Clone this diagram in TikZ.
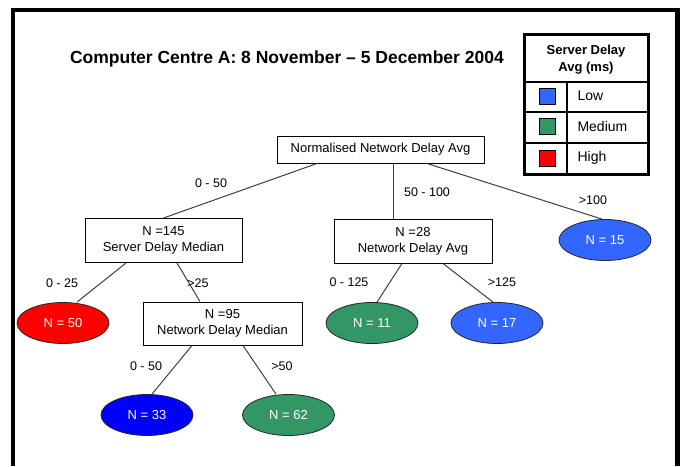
\documentclass[tikz,border=0pt]{standalone}
\usepackage{fontspec}
\setmainfont{Liberation Sans}
\usepackage{xcolor}
\usetikzlibrary{positioning,shapes.geometric}
\definecolor{lowblue}{RGB}{51,102,255}
\definecolor{midgreen}{RGB}{51,150,102}
\definecolor{highred}{RGB}{255,0,0}
\definecolor{deepblue}{RGB}{0,0,255}
\definecolor{edgegray}{RGB}{64,64,64}

\begin{document}
\begin{tikzpicture}[x=1pt,y=-1pt,
  split/.style={draw, line width=1pt, align=center, inner sep=0pt,
    font=\fontsize{13}{16}\selectfont},
  leaf/.style={ellipse, draw=black!85, line width=0.8pt, inner sep=0pt,
    minimum width=92pt, minimum height=41pt, text=white,
    font=\fontsize{13}{16}\selectfont},
  branch/.style={draw=edgegray, line width=1pt},
  cut/.style={font=\fontsize{12.5}{15}\selectfont},
  swatch/.style={draw, line width=0.8pt, minimum size=16pt, inner sep=0pt},
  keytext/.style={anchor=west, font=\fontsize{14}{16}\selectfont}]
\useasboundingbox (0,0) rectangle (680,466);
\fill[white] (0,0) rectangle (680,466);
\draw[line width=4.5pt] (13,466) -- (13,10) -- (677.5,10) -- (677.5,466);

% title
\node[font=\bfseries\fontsize{17.5}{20}\selectfont] (title) at (287,59)
  {Computer Centre A: 8 November -- 5 December 2004};

% legend
\draw[line width=3pt] (524,34) rectangle (648,174);
\draw[line width=1.5pt] (524,82) -- (648,82);
\draw[line width=1.2pt] (524,112) -- (648,112);
\draw[line width=1.2pt] (524,143) -- (648,143);
\draw[line width=1.2pt] (567,82) -- (567,174);
\node[align=center, font=\bfseries\fontsize{13}{17}\selectfont] (keyhead) at (586,60)
  {Server Delay\\Avg (ms)};
\node[swatch, fill=lowblue] (keylow) at (547,96) {};
\node[swatch, fill=midgreen] (keymid) at (547,126.5) {};
\node[swatch, fill=highred] (keyhigh) at (547,158) {};
\node[keytext] (lowtxt) at (574,96) {Low};
\node[keytext] (midtxt) at (574,126.5) {Medium};
\node[keytext] (hightxt) at (574,157.5) {High};

% tree nodes
\node[split, minimum width=207pt, minimum height=27pt] (root) at (380.5,149.5)
  {Normalised Network Delay Avg};
\node[split, minimum width=157pt, minimum height=44pt] (n145) at (163.5,240.5)
  {N =145\\Server Delay Median};
\node[split, minimum width=158pt, minimum height=44pt] (n28) at (413,241)
  {N =28\\Network Delay Avg};
\node[leaf, fill=lowblue] (n15) at (605,240) {N = 15};
\node[leaf, fill=highred] (n50) at (63,323) {N = 50};
\node[split, minimum width=159pt, minimum height=43pt] (n95) at (222.5,323.5)
  {N =95\\Network Delay Median};
\node[leaf, fill=midgreen] (n11) at (372,323) {N = 11};
\node[leaf, fill=lowblue] (n17) at (497,323) {N = 17};
\node[leaf, fill=deepblue] (n33) at (147,415) {N = 33};
\node[leaf, fill=midgreen] (n62) at (288.5,415) {N = 62};

% branches
\draw[branch] ([xshift=-63.5pt]root.south) -- (n145.north);
\draw[branch] ([xshift=12.5pt]root.south) -- ([xshift=-20pt]n28.north);
\draw[branch] ([xshift=46.5pt]root.south) -- ([xshift=-3pt]n15.north);
\draw[branch] ([xshift=-37.5pt]n145.south) -- ([xshift=14pt]n50.north);
\draw[branch] ([xshift=13.5pt]n145.south) -- ([xshift=-22.5pt]n95.north);
\draw[branch] ([xshift=-11pt]n28.south) -- ([xshift=5pt]n11.north);
\draw[branch] ([xshift=30pt]n28.south) -- ([xshift=-4pt]n17.north);
\draw[branch] ([xshift=-30.5pt]n95.south) -- ([xshift=5pt]n33.north);
\draw[branch] ([xshift=20.5pt]n95.south) -- ([xshift=-12.5pt]n62.north);

% branch labels
\node[cut] (c1) at (211,183) {0 - 50};
\node[cut] (c2) at (427,192) {50 - 100};
\node[cut] (c3) at (593,200) {>100};
\node[cut] (c4) at (62,283) {0 - 25};
\node[cut] (c5) at (198,283) {>25};
\node[cut] (c6) at (349,282) {0 - 125};
\node[cut] (c7) at (502,282) {>125};
\node[cut] (c8) at (146,366) {0 - 50};
\node[cut] (c9) at (282,366) {>50};
\end{tikzpicture}
\end{document}
